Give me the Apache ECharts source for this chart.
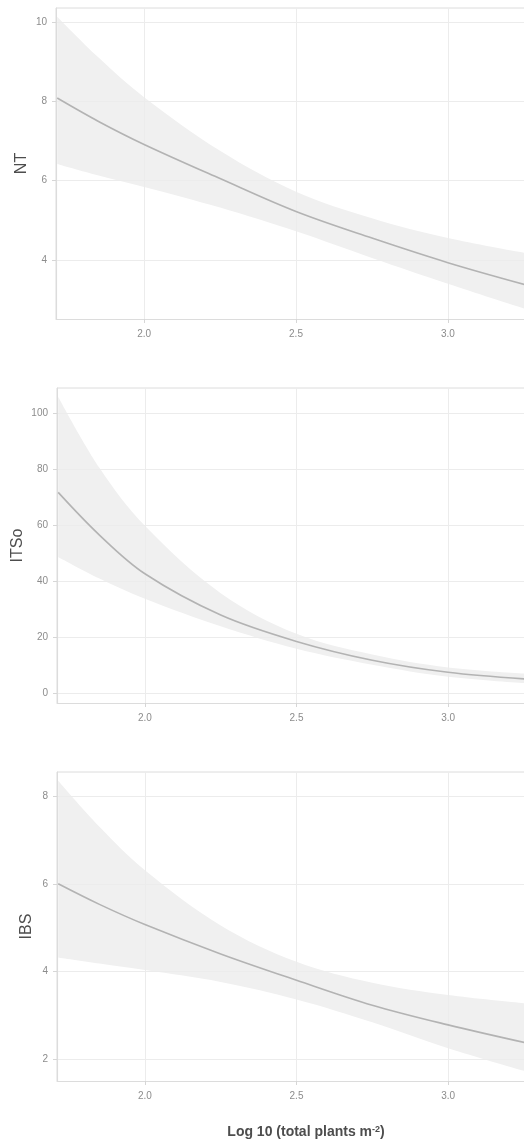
<!DOCTYPE html>
<html>
<head>
<meta charset="utf-8">
<script src="https://cdn.jsdelivr.net/npm/echarts@6/dist/echarts.min.js"></script>
<style>
html,body{margin:0;padding:0;background:#fff;}
#c{width:524px;height:1142px;}
</style>
</head>
<body>
<div id="c"></div>
<script>
// x positions (log10 total plants m-2)
const xs = [1.714, 1.85, 2.0, 2.25, 2.5, 2.75, 3.0, 3.257];
const xTicks = [2.0, 2.5, 3.0];

// NT panel
const ntFit = [8.08, 7.49, 6.91, 6.05, 5.22, 4.55, 3.93, 3.37];
const ntLo  = [6.42, 6.13, 5.84, 5.32, 4.72, 4.05, 3.40, 2.76];
const ntHi  = [10.13, 9.10, 8.10, 6.75, 5.72, 5.05, 4.55, 4.17];
const ntTicks = [4, 6, 8, 10];

// ITSo panel
const itFit = [71.7, 56.5, 42.7, 28.0, 18.6, 11.9, 7.6, 5.2];
const itLo  = [48.7, 41.0, 33.8, 24.0, 16.0, 10.3, 6.0, 3.7];
const itHi  = [105.8, 80.5, 59.8, 35.8, 21.3, 13.9, 9.3, 7.1];
const itTicks = [0, 20, 40, 60, 80, 100];

// IBS panel
const ibFit = [6.00, 5.53, 5.07, 4.40, 3.80, 3.23, 2.78, 2.37];
const ibLo  = [4.32, 4.18, 4.03, 3.76, 3.36, 2.84, 2.25, 1.72];
const ibHi  = [8.35, 7.30, 6.31, 5.05, 4.22, 3.74, 3.46, 3.27];
const ibTicks = [2, 4, 6, 8];

const panels = [
  {name:'NT', fit:ntFit, lo:ntLo, hi:ntHi, ticks:ntTicks, min:2.51, max:10.35, left:56, top:8, height:311, gap:26.5},
  {name:'ITSo', fit:itFit, lo:itLo, hi:itHi, ticks:itTicks, min:-3.35, max:108.9, left:57, top:388, height:315, gap:31.5},
  {name:'IBS', fit:ibFit, lo:ibLo, hi:ibHi, ticks:ibTicks, min:1.5, max:8.55, left:57, top:772, height:309, gap:22}
];

const grid = [], xAxis = [], yAxis = [], series = [];
const tickColor = '#d6d6d6';
const labelColor = '#8c8c8c';
const font = 'Liberation Sans, Arial';
panels.forEach((p, i) => {
  grid.push({left:p.left, top:p.top, width:525 - p.left + 1, height:p.height, show:true,
    outerBoundsMode:'none', containLabel:false,
    borderColor:'#dcdcdc', borderWidth:1, backgroundColor:'transparent'});
  xAxis.push({type:'value', gridIndex:i, min:1.71, max:3.257, z:3,
    axisLine:{show:true, onZero:false, lineStyle:{color:'#dcdcdc'}},
    axisTick:{show:true, length:4, lineStyle:{color:tickColor}, customValues:xTicks},
    axisLabel:{color:labelColor, fontSize:10, fontFamily:font, margin:10,
      customValues:xTicks, formatter:v => v.toFixed(1)},
    splitLine:{show:true, lineStyle:{color:'#ececec', width:1}}
  });
  yAxis.push({type:'value', gridIndex:i, min:p.min, max:p.max, z:3,
    name:p.name, nameLocation:'middle', nameGap:p.gap, nameRotate:90, nameMoveOverlap:false,
    nameTextStyle:{color:'#4d4d4d', fontSize:16, fontFamily:font},
    axisLine:{show:true, onZero:false, lineStyle:{color:'#dcdcdc'}},
    axisTick:{show:true, length:4, lineStyle:{color:tickColor}, customValues:p.ticks},
    axisLabel:{color:labelColor, fontSize:10, fontFamily:font, margin:9,
      customValues:p.ticks},
    splitLine:{show:true, lineStyle:{color:'#ececec', width:1}}
  });
  const lo = xs.map((x, k) => [x, p.lo[k]]);
  const hi = xs.map((x, k) => [x, p.hi[k]]);
  const fit = xs.map((x, k) => [x, p.fit[k]]);
  // ribbon: upper edge filled down to the axis, then covered below the lower edge
  series.push({type:'line', xAxisIndex:i, yAxisIndex:i, data:hi, smooth:0.35,
    symbol:'none', lineStyle:{width:0, opacity:0},
    areaStyle:{color:'#f0f0f0', opacity:1, origin:'start'}, silent:true, z:1});
  series.push({type:'line', xAxisIndex:i, yAxisIndex:i, data:lo, smooth:0.35,
    symbol:'none', lineStyle:{width:0, opacity:0},
    areaStyle:{color:'#ffffff', opacity:1, origin:'start'}, silent:true, z:2});
  series.push({type:'line', xAxisIndex:i, yAxisIndex:i, data:fit, smooth:0.35,
    symbol:'none', lineStyle:{color:'#b3b3b3', width:1.6}, z:5});
});

const chart = echarts.init(document.getElementById('c'), null, {renderer:'canvas'});
chart.setOption({
  animation:false,
  backgroundColor:'#ffffff',
  title:{
    text:'{a|Log 10 (total plants m}{s|-2}{a|)}',
    left:301, top:1120, textAlign:'center',
    textStyle:{rich:{
      a:{fontSize:14, fontWeight:'bold', color:'#4d4d4d', fontFamily:font},
      s:{fontSize:9, fontWeight:'bold', color:'#4d4d4d', fontFamily:font, verticalAlign:'top', padding:[0,0,6,0]}
    }}
  },
  grid, xAxis, yAxis, series
});
</script>
</body>
</html>
